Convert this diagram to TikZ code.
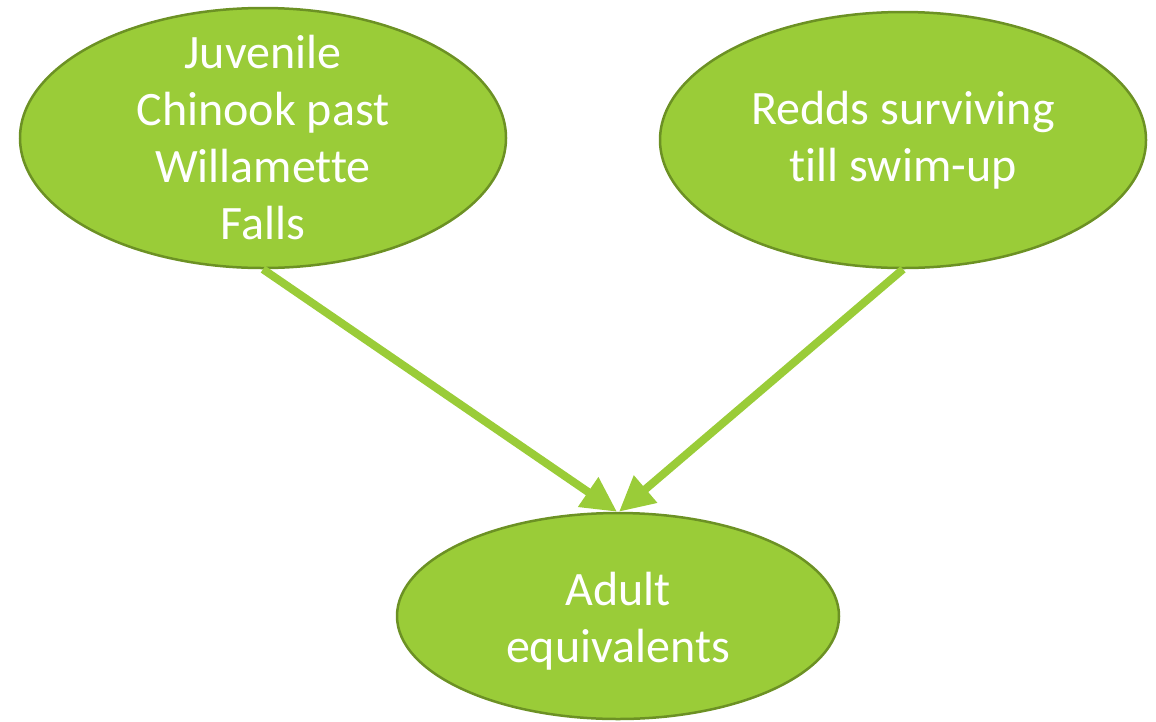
\documentclass[tikz,border=0pt]{standalone}
\usepackage{fontspec}
\setmainfont{Carlito}[Ligatures=NoCommon]
\usetikzlibrary{shapes.geometric,arrows.meta}
\definecolor{leaf}{RGB}{154,204,56}
\definecolor{leafline}{RGB}{108,145,36}
\tikzset{
  blob/.style={ellipse, draw=leafline, line width=2.5pt, fill=leaf, inner sep=0pt},
  blobtext/.style={text=white, align=center, font=\fontsize{48}{57}\selectfont},
  feed/.style={draw=leaf, line width=8pt, -{Triangle[length=35pt,width=34pt]}}
}
\begin{document}
\begin{tikzpicture}[x=1pt,y=-1pt]
  \useasboundingbox (0,0) rectangle (1156,721);
  \node[blob, minimum width=486pt, minimum height=260pt,
    label={[blobtext]center:Juvenile\\Chinook past\\Willamette\\Falls}] (juv) at (263,138) {};
  \node[blob, minimum width=486pt, minimum height=256pt,
    label={[blobtext]center:Redds surviving\\till swim-up}] (redds) at (903,140) {};
  \node[blob, minimum width=442pt, minimum height=206pt,
    label={[blobtext,yshift=-5pt]center:Adult\\equivalents}] (adult) at (618,616) {};
  \draw[feed] (juv.south) -- ([xshift=-1pt]adult.north);
  \draw[feed] (redds.south) -- ([xshift=1pt]adult.north);
\end{tikzpicture}
\end{document}
